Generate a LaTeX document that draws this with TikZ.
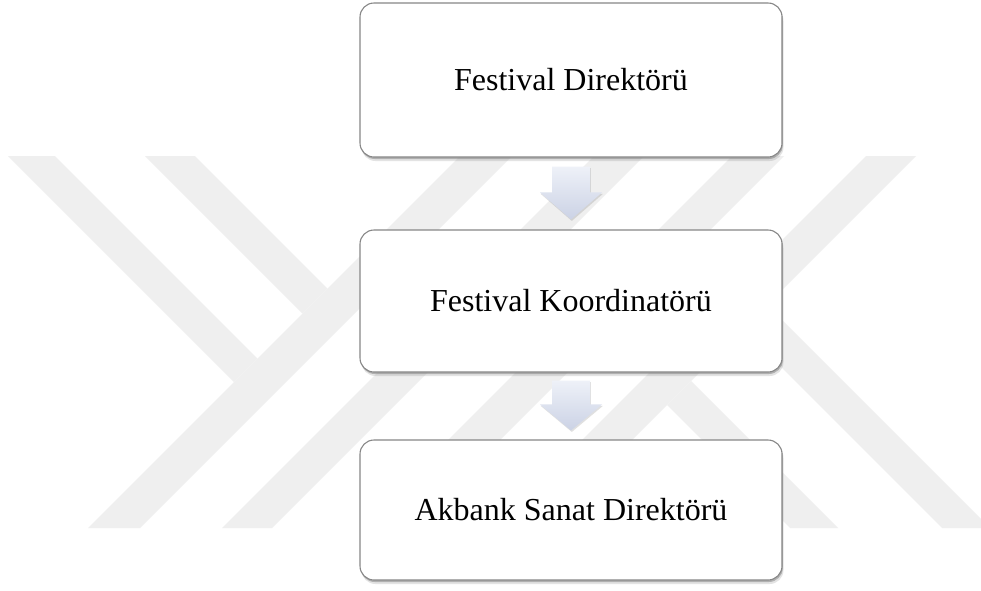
\documentclass[tikz,border=0pt]{standalone}
\usepackage{fontspec}
\setmainfont{Liberation Serif}
\usetikzlibrary{shadows,calc}
\definecolor{wm}{RGB}{239,239,239}
\definecolor{boxline}{RGB}{135,135,135}
\definecolor{arrtop}{RGB}{238,241,248}
\definecolor{arrbot}{RGB}{203,210,229}
\begin{document}
\begin{tikzpicture}[x=1pt,y=-1pt,
  wmband/.style={fill=wm,draw=none},
  orgbox/.style={draw=boxline,line width=1.1pt,fill=white,rounded corners=14pt,
    minimum width=422pt,inner sep=0pt,font=\fontsize{32}{38}\selectfont,
    drop shadow={shadow xshift=1.5pt,shadow yshift=-4pt,opacity=0.18,fill=black!60},
    drop shadow={shadow xshift=0.8pt,shadow yshift=-2pt,opacity=0.45,fill=black!55}},
  blockarrow/.style={draw=none,top color=arrtop,bottom color=arrbot,
    drop shadow={shadow xshift=0.8pt,shadow yshift=-1.5pt,opacity=0.2,fill=black!60}}]
\useasboundingbox (0,0) rectangle (981,590);
\fill[white] (0,0) rectangle (981,590);
% watermark
\begin{scope}
\clip (0,0) rectangle (981,590);
\fill[wmband] (8,156) -- (55,156) -- (257.5,358.5) -- (234,382) -- cycle;
\fill[wmband] (145,156) -- (195,156) -- (327.5,288.5) -- (302.5,313.5) -- cycle;
\fill[wmband] (460,156) -- (512,156) -- (140,528) -- (88,528) -- cycle;
\fill[wmband] (594,156) -- (644,156) -- (272,528) -- (222,528) -- cycle;
\fill[wmband] (732,156) -- (784,156) -- (412,528) -- (360,528) -- cycle;
\fill[wmband] (866,156) -- (916,156) -- (544,528) -- (494,528) -- cycle;
\fill[wmband] (667,405) -- (691,381) -- (838,528) -- (790,528) -- cycle;
\fill[wmband] (743,329) -- (767,305) -- (990,528) -- (942,528) -- cycle;
\end{scope}
% boxes
\node[orgbox,minimum height=154pt] (b1) at (571,80) {Festival Direktörü};
\node[orgbox,minimum height=142pt] (b2) at (571,301) {Festival Koordinatörü};
\node[orgbox,minimum height=140pt] (b3) at (571,510) {Akbank Sanat Direktörü};
% arrows
\coordinate (a1s) at ($(b1.south)+(0,9)$);
\coordinate (a1t) at ($(b2.north)+(0,-10)$);
\coordinate (a2s) at ($(b2.south)+(0,8)$);
\coordinate (a2t) at ($(b3.north)+(0,-9)$);
\path[blockarrow] ($(a1s)+(-19,0)$) -- ($(a1s)+(19,0)$) -- ($(a1t)+(19,-27)$) -- ($(a1t)+(31,-27)$) -- (a1t) -- ($(a1t)+(-31,-27)$) -- ($(a1t)+(-19,-27)$) -- cycle;
\path[blockarrow] ($(a2s)+(-19,0)$) -- ($(a2s)+(19,0)$) -- ($(a2t)+(19,-26)$) -- ($(a2t)+(31,-26)$) -- (a2t) -- ($(a2t)+(-31,-26)$) -- ($(a2t)+(-19,-26)$) -- cycle;
\end{tikzpicture}
\end{document}
